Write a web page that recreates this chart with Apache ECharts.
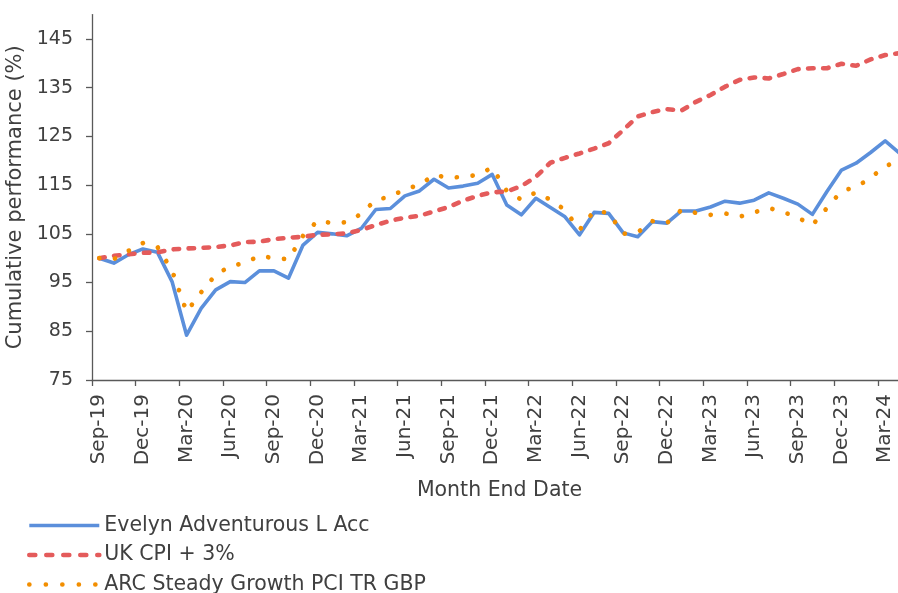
<!DOCTYPE html>
<html>
<head>
<meta charset="utf-8">
<script src="https://cdn.jsdelivr.net/npm/echarts@6/dist/echarts.min.js"></script>
<style>
  html, body { margin: 0; padding: 0; background: #fff; }
  #chart { width: 898px; height: 593px; }
</style>
</head>
<body>
<div id="chart"></div>
<script>
const months = [
  'Sep-19', 'Oct-19', 'Nov-19', 'Dec-19', 'Jan-20', 'Feb-20', 'Mar-20', 'Apr-20',
  'May-20', 'Jun-20', 'Jul-20', 'Aug-20', 'Sep-20', 'Oct-20', 'Nov-20', 'Dec-20',
  'Jan-21', 'Feb-21', 'Mar-21', 'Apr-21', 'May-21', 'Jun-21', 'Jul-21', 'Aug-21',
  'Sep-21', 'Oct-21', 'Nov-21', 'Dec-21', 'Jan-22', 'Feb-22', 'Mar-22', 'Apr-22',
  'May-22', 'Jun-22', 'Jul-22', 'Aug-22', 'Sep-22', 'Oct-22', 'Nov-22', 'Dec-22',
  'Jan-23', 'Feb-23', 'Mar-23', 'Apr-23', 'May-23', 'Jun-23', 'Jul-23', 'Aug-23',
  'Sep-23', 'Oct-23', 'Nov-23', 'Dec-23', 'Jan-24', 'Feb-24', 'Mar-24', 'Apr-24'
];

const evelyn = [
  100.0, 99.0, 100.7, 101.9, 101.2, 95.2, 84.2, 89.7,
  93.5, 95.2, 95.0, 97.4, 97.4, 95.9, 102.7, 105.3,
  105.0, 104.6, 106.1, 110.0, 110.2, 112.8, 113.8, 116.2,
  114.4, 114.8, 115.4, 117.2, 110.9, 108.9, 112.3, 110.4,
  108.5, 104.8, 109.4, 109.2, 105.2, 104.4, 107.5, 107.2,
  109.7, 109.7, 110.5, 111.7, 111.3, 111.9, 113.4, 112.3,
  111.1, 109.0, 113.7, 118.1, 119.5, 121.7, 124.1, 121.5
];

const ukCpi = [
  100.0, 100.5, 100.8, 101.1, 101.2, 101.8, 102.0, 102.1,
  102.3, 102.6, 103.3, 103.4, 103.9, 104.2, 104.4, 104.8,
  104.9, 105.1, 105.8, 106.8, 107.7, 108.3, 108.7, 109.6,
  110.5, 111.8, 112.8, 113.5, 113.7, 114.8, 116.7, 119.6,
  120.6, 121.5, 122.5, 123.6, 126.3, 129.1, 130.0, 130.6,
  130.3, 132.1, 133.5, 135.2, 136.6, 137.1, 136.9, 137.8,
  138.8, 139.0, 139.0, 139.9, 139.5, 140.8, 141.7, 142.1
];

const arc = [
  100.0, 99.8, 101.5, 103.1, 102.3, 97.5, 89.0, 93.0,
  96.6, 98.4, 99.0, 100.5, 100.0, 99.8, 104.6, 107.7,
  107.2, 107.4, 109.1, 112.0, 112.6, 114.2, 115.0, 117.1,
  116.5, 116.7, 117.1, 118.6, 113.8, 112.0, 113.5, 112.0,
  109.9, 105.8, 109.7, 109.3, 105.0, 105.3, 107.6, 107.2,
  109.9, 109.3, 108.9, 109.2, 108.5, 109.4, 110.3, 109.5,
  108.3, 106.8, 110.3, 113.8, 114.6, 116.5, 118.9, 120.0
];

const yTicks = [75, 85, 95, 105, 115, 125, 135, 145];

const FONT = '"DejaVu Sans", sans-serif';
const TEXT = '#404040';
const AXIS = '#595959';
const BLUE = '#5B8FDB';
const RED = '#E45B5B';
const ORANGE = '#F28E00';

const chartDom = echarts.init(document.getElementById('chart'));
const option = {
  animation: false,
  backgroundColor: '#fff',
  textStyle: { fontFamily: FONT },
  grid: {
    left: 92,
    top: 14.6,
    width: 815,
    bottom: 213,
    outerBoundsMode: 'none'
  },
  legend: {
    orient: 'vertical',
    left: 27,
    top: 515,
    height: 120,
    padding: 0,
    itemWidth: 70,
    itemHeight: 14,
    itemGap: 8.5,
    itemTextGap: 7,
    selectedMode: false,
    itemStyle: { opacity: 0 },
    textStyle: {
      color: TEXT,
      fontSize: 20.5,
      fontFamily: FONT,
      lineHeight: 20
    },
    data: [
      { name: 'Evelyn Adventurous L Acc', lineStyle: { color: BLUE, width: 3.6, type: 'solid' } },
      { name: 'UK CPI + 3%', lineStyle: { color: RED, width: 4.6, type: [6, 11], cap: 'round' } },
      { name: 'ARC Steady Growth PCI TR GBP', lineStyle: { color: ORANGE, width: 4.6, type: [0.1, 16.4], cap: 'round' } }
    ]
  },
  xAxis: {
    type: 'category',
    data: months,
    boundaryGap: true,
    name: 'Month End Date',
    nameLocation: 'middle',
    nameGap: 100,
    nameTextStyle: { color: TEXT, fontSize: 20.5, fontFamily: FONT },
    axisLine: { lineStyle: { color: AXIS, width: 1.3 } },
    axisTick: { show: true, interval: 2, length: 6, lineStyle: { color: AXIS, width: 1.3 } },
    axisLabel: {
      interval: 2,
      rotate: 90,
      margin: 14,
      color: TEXT,
      fontSize: 20,
      fontFamily: FONT
    },
    splitLine: { show: false }
  },
  yAxis: {
    type: 'value',
    min: 75,
    max: 150,
    name: 'Cumulative performance (%)',
    nameLocation: 'middle',
    nameGap: 63,
    nameTextStyle: { color: TEXT, fontSize: 21, fontFamily: FONT },
    axisLine: { show: true, lineStyle: { color: AXIS, width: 1.3 } },
    axisTick: { show: true, length: 6, customValues: yTicks, lineStyle: { color: AXIS, width: 1.3 } },
    axisLabel: {
      customValues: yTicks,
      margin: 19,
      color: TEXT,
      fontSize: 19,
      fontFamily: FONT
    },
    splitLine: { show: false }
  },
  series: [
    {
      name: 'Evelyn Adventurous L Acc',
      type: 'line',
      data: evelyn,
      symbol: 'none',
      color: BLUE,
      lineStyle: { color: BLUE, width: 3.6, join: 'round' }
    },
    {
      name: 'UK CPI + 3%',
      type: 'line',
      data: ukCpi,
      symbol: 'none',
      color: RED,
      lineStyle: { color: RED, width: 4.6, type: [5.5, 9.5], cap: 'round', join: 'round' }
    },
    {
      name: 'ARC Steady Growth PCI TR GBP',
      type: 'line',
      data: arc,
      symbol: 'none',
      color: ORANGE,
      lineStyle: { color: ORANGE, width: 4.7, type: [0.1, 15.8], cap: 'round', join: 'round' }
    }
  ]
};
chartDom.setOption(option);
</script>
</body>
</html>
